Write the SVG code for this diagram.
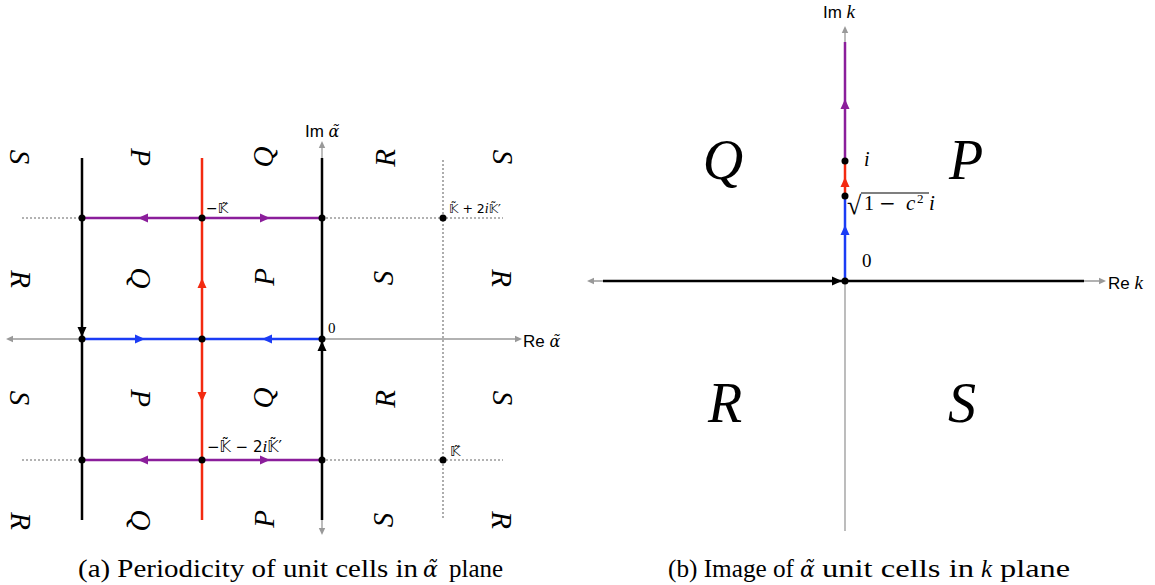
<svg xmlns="http://www.w3.org/2000/svg" xmlns:xlink="http://www.w3.org/1999/xlink" width="1155" height="585" viewBox="0 0 1155 585">
<style>
.ax{stroke:#999;stroke-width:1.3;fill:none}
.dot{stroke:#999;stroke-width:1.6;stroke-dasharray:2 2;fill:none}
.bk{stroke:#000;stroke-width:2.5;fill:none}
.rd{stroke:#f32a10;stroke-width:2.5;fill:none}
.pu{stroke:#8b1e9b;stroke-width:2.5;fill:none}
.bl{stroke:#1b3cf5;stroke-width:2.5;fill:none}
.cell{font-family:"Liberation Serif","DejaVu Serif",serif;font-style:italic;font-size:29px;text-anchor:middle;dominant-baseline:central}
.big{font-family:"Liberation Serif","DejaVu Serif",serif;font-style:italic;font-size:56px;text-anchor:middle;dominant-baseline:central}
.sans{font-family:"Liberation Sans",Arial,sans-serif;font-size:17px}
.it{font-family:"Liberation Serif","DejaVu Serif",serif;font-style:italic}
.dit{font-family:"DejaVu Serif",serif;font-style:italic}
.ser{font-family:"Liberation Serif","DejaVu Serif",serif}
.dk{font-family:"DejaVu Sans",sans-serif}
.cap{font-family:"Liberation Serif","DejaVu Serif",serif;font-size:25px}
</style>
<defs>
<path id="ah" d="M5,0 L-5,-4.5 L-5,4.5 Z"/>
<path id="gah" d="M4,0 L-3,-3.2 L-3,3.2 Z" fill="#999"/>
<circle id="pt" r="3.5" fill="#000"/>
</defs>

<g id="panel-a">
 <g id="axes-a">
  <line class="ax" x1="12" y1="339" x2="516" y2="339"/>
  <line class="ax" x1="322" y1="147" x2="322" y2="529"/>
  <use xlink:href="#gah" transform="translate(10,339) rotate(180)"/>
  <use xlink:href="#gah" transform="translate(518,339)"/>
  <use xlink:href="#gah" transform="translate(322,145) rotate(-90)"/>
  <use xlink:href="#gah" transform="translate(322,531) rotate(90)"/>
 </g>
 <g id="grid-dotted">
  <line class="dot" x1="22" y1="218" x2="82" y2="218"/>
  <line class="dot" x1="322" y1="218" x2="503" y2="218"/>
  <line class="dot" x1="22" y1="460" x2="82" y2="460"/>
  <line class="dot" x1="322" y1="460" x2="503" y2="460"/>
  <line class="dot" x1="443" y1="160" x2="443" y2="520"/>
 </g>
 <g id="connectors-a">
  <line class="bk" x1="82" y1="158" x2="82" y2="520"/>
  <line class="bk" x1="322" y1="158" x2="322" y2="520"/>
  <line class="rd" x1="202" y1="158" x2="202" y2="520"/>
  <line class="pu" x1="82" y1="218" x2="322" y2="218"/>
  <line class="pu" x1="82" y1="460" x2="322" y2="460"/>
  <line class="bl" x1="82" y1="339" x2="322" y2="339"/>
  <use xlink:href="#ah" fill="#8b1e9b" transform="translate(143,218) rotate(180)"/>
  <use xlink:href="#ah" fill="#8b1e9b" transform="translate(265,218)"/>
  <use xlink:href="#ah" fill="#8b1e9b" transform="translate(143,460) rotate(180)"/>
  <use xlink:href="#ah" fill="#8b1e9b" transform="translate(265,460)"/>
  <use xlink:href="#ah" fill="#f32a10" transform="translate(202,283) rotate(-90)"/>
  <use xlink:href="#ah" fill="#f32a10" transform="translate(202,397) rotate(90)"/>
  <use xlink:href="#ah" fill="#1b3cf5" transform="translate(140,339)"/>
  <use xlink:href="#ah" fill="#1b3cf5" transform="translate(267,339) rotate(180)"/>
  <use xlink:href="#ah" fill="#000" transform="translate(82,332) rotate(90)"/>
  <use xlink:href="#ah" fill="#000" transform="translate(322,346) rotate(-90)"/>
 </g>
 <g id="points-a">
  <use xlink:href="#pt" x="82" y="218"/><use xlink:href="#pt" x="202" y="218"/><use xlink:href="#pt" x="322" y="218"/><use xlink:href="#pt" x="443" y="218"/>
  <use xlink:href="#pt" x="82" y="339"/><use xlink:href="#pt" x="202" y="339"/><use xlink:href="#pt" x="322" y="339"/>
  <use xlink:href="#pt" x="82" y="460"/><use xlink:href="#pt" x="202" y="460"/><use xlink:href="#pt" x="322" y="460"/><use xlink:href="#pt" x="443" y="460"/>
 </g>
 <g id="cells-a">
  <text class="cell" transform="translate(20,157) rotate(90)">S</text>
  <text class="cell" transform="translate(141,157) rotate(90)">P</text>
  <text class="cell" transform="translate(263,157) rotate(-90)">Q</text>
  <text class="cell" transform="translate(385,158) rotate(-90)">R</text>
  <text class="cell" transform="translate(503,157) rotate(90)">S</text>
  <text class="cell" transform="translate(21,279) rotate(90)">R</text>
  <text class="cell" transform="translate(141,278) rotate(90)">Q</text>
  <text class="cell" transform="translate(264,277) rotate(-90)">P</text>
  <text class="cell" transform="translate(383,278) rotate(-90)">S</text>
  <text class="cell" transform="translate(502,278) rotate(90)">R</text>
  <text class="cell" transform="translate(20,398) rotate(90)">S</text>
  <text class="cell" transform="translate(141,398) rotate(90)">P</text>
  <text class="cell" transform="translate(263,398) rotate(-90)">Q</text>
  <text class="cell" transform="translate(385,399) rotate(-90)">R</text>
  <text class="cell" transform="translate(503,398) rotate(90)">S</text>
  <text class="cell" transform="translate(21,521) rotate(90)">R</text>
  <text class="cell" transform="translate(141,520) rotate(90)">Q</text>
  <text class="cell" transform="translate(264,519) rotate(-90)">P</text>
  <text class="cell" transform="translate(383,520) rotate(-90)">S</text>
  <text class="cell" transform="translate(502,520) rotate(90)">R</text>
 </g>
 <g id="labels-a">
  <text class="sans" x="305" y="137">Im <tspan class="dit" font-size="16">α̃</tspan></text>
  <text class="sans" x="523" y="347">Re <tspan class="dit" font-size="16">α̃</tspan></text>
  <text class="ser" x="328" y="333" font-size="15">0</text>
  <text x="206" y="213" class="dk" font-size="14">−𝕂̃</text>
  <text x="449" y="213" class="dk" font-size="12.5">𝕂̃ + 2<tspan class="it" font-size="14">i</tspan>𝕂̃′</text>
  <text x="207" y="452" class="dk" font-size="15">−𝕂̃ − 2<tspan class="it" font-size="17">i</tspan>𝕂̃′</text>
  <text x="450" y="456" class="dk" font-size="14">𝕂̃</text>
 </g>
</g>

<g id="panel-b">
 <g id="axes-b">
  <line class="ax" x1="594" y1="281" x2="1100" y2="281"/>
  <line class="ax" x1="845" y1="32" x2="845" y2="531"/>
  <use xlink:href="#gah" transform="translate(591,281) rotate(180)"/>
  <use xlink:href="#gah" transform="translate(1102,281)"/>
  <use xlink:href="#gah" transform="translate(845,30) rotate(-90)"/>
 </g>
 <g id="connectors-b">
  <line class="bk" x1="603" y1="281" x2="1084" y2="281"/>
  <line class="pu" x1="845" y1="42" x2="845" y2="161"/>
  <line class="rd" x1="845" y1="161" x2="845" y2="195"/>
  <line class="bl" x1="845" y1="195" x2="845" y2="281"/>
  <use xlink:href="#ah" fill="#8b1e9b" transform="translate(845,104) rotate(-90)"/>
  <use xlink:href="#ah" fill="#f32a10" transform="translate(845,182) rotate(-90)"/>
  <use xlink:href="#ah" fill="#1b3cf5" transform="translate(845,230) rotate(-90)"/>
  <use xlink:href="#ah" fill="#000" transform="translate(837,281)"/>
 </g>
 <g id="points-b">
  <use xlink:href="#pt" x="845" y="161"/><use xlink:href="#pt" x="845" y="196"/><use xlink:href="#pt" x="845" y="281"/>
 </g>
 <g id="regions-b">
  <text class="big" x="723" y="160">Q</text>
  <text class="big" x="966" y="160">P</text>
  <text class="big" x="725" y="403">R</text>
  <text class="big" x="962" y="403">S</text>
 </g>
 <g id="labels-b">
  <text class="sans" x="823" y="18">Im <tspan class="it" font-size="19">k</tspan></text>
  <text class="sans" x="1108" y="289">Re <tspan class="it" font-size="19">k</tspan></text>
  <text class="it" x="864" y="166" font-size="20">i</text>
  <text class="ser" x="862" y="267" font-size="19">0</text>
  <line x1="861" y1="193" x2="929" y2="193" stroke="#000" stroke-width="1.2"/>
  <text><tspan class="ser" x="847" y="214" font-size="26">√</tspan><tspan class="ser" x="864" y="210" font-size="20">1</tspan><tspan x="879" y="210" font-family="DejaVu Serif" font-size="20">−</tspan><tspan class="it" x="906" y="210" font-size="21">c</tspan><tspan class="ser" x="917" y="203" font-size="13">2</tspan><tspan class="it" x="929" y="210" font-size="21">i</tspan></text>
 </g>
</g>

<g id="captions">
 <text class="cap" x="78" y="577" textLength="340" lengthAdjust="spacingAndGlyphs">(a) Periodicity of unit cells in</text>
 <text class="dit" x="423" y="577" font-size="22">α̃</text>
 <text class="cap" x="449" y="577" textLength="54" lengthAdjust="spacingAndGlyphs">plane</text>
 <text class="cap" x="668" y="577" textLength="126" lengthAdjust="spacingAndGlyphs">(b) Image of</text>
 <text class="dit" x="800" y="577" font-size="22">α̃</text>
 <text class="cap" x="822" y="577" textLength="152" lengthAdjust="spacingAndGlyphs">unit cells in</text>
 <text class="cap it" x="981" y="577">k</text>
 <text class="cap" x="1000" y="577" textLength="70" lengthAdjust="spacingAndGlyphs">plane</text>
</g>
</svg>
